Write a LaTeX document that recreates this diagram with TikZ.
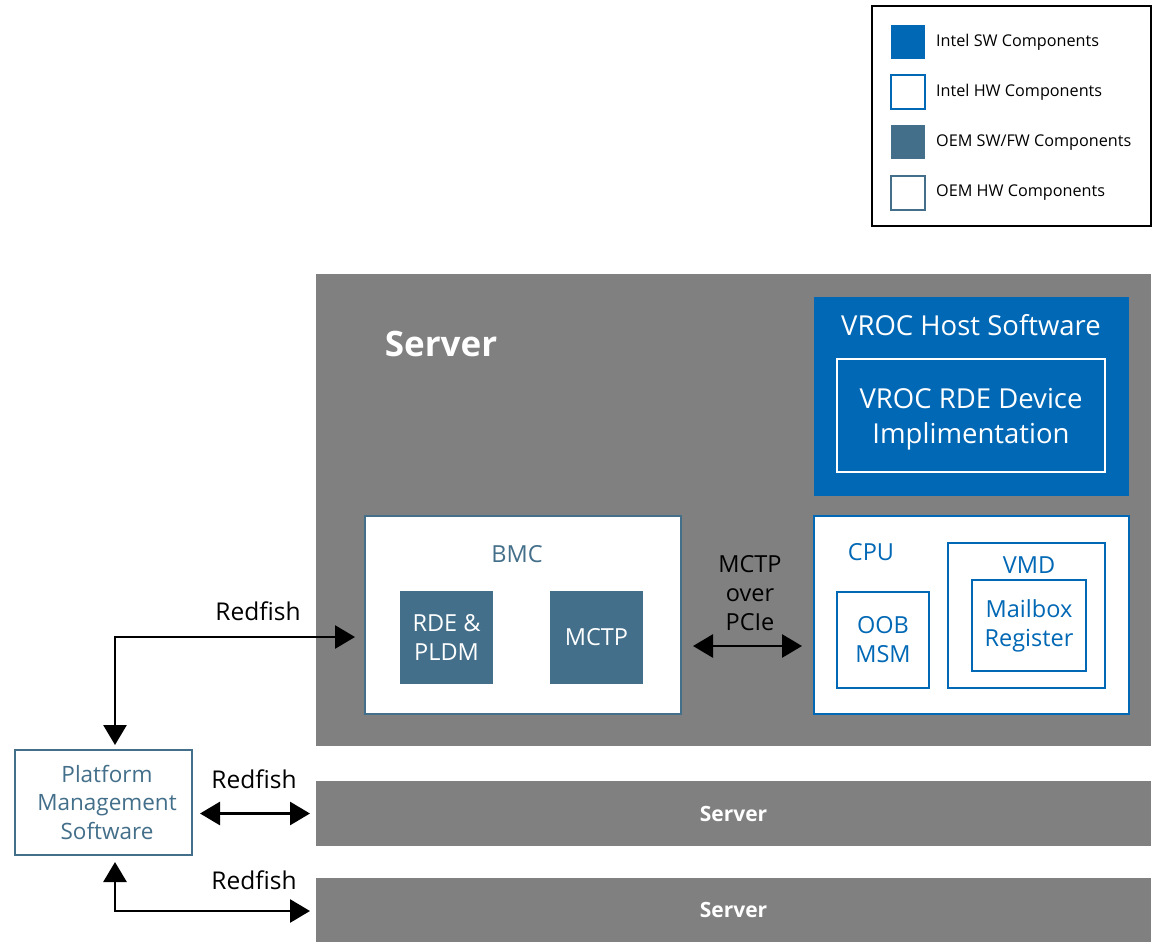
\documentclass[tikz,border=0pt]{standalone}
\usepackage{fontspec}
\setmainfont{Open Sans}
\usetikzlibrary{arrows.meta,calc}
\definecolor{intelblue}{HTML}{0068B5}
\definecolor{oem}{HTML}{436F8A}
\definecolor{srvgray}{HTML}{808080}
\begin{document}
\begin{tikzpicture}[x=1pt,y=-1pt,
  box/.style={anchor=north west,inner sep=0pt,outer sep=0pt},
  srv/.style={box,fill=srvgray},
  oembox/.style={box,draw=oem,line width=2.8pt,fill=white},
  oemfill/.style={box,fill=oem,text=white,font=\fontsize{23.5}{29}\selectfont,align=center},
  ibox/.style={box,draw=intelblue,line width=2.8pt,fill=white,text=intelblue,font=\fontsize{23.5}{29}\selectfont,align=center},
  lbl/.style={inner sep=0pt,font=\fontsize{23.5}{29}\selectfont,align=center},
  legtxt/.style={anchor=west,inner sep=0pt,font=\fontsize{16.2}{18}\selectfont},
  legsq/.style={box,minimum width=34pt,minimum height=34pt,line width=2.2pt},
  arr/.style={line width=2.8pt,{Triangle[length=20pt,width=23pt]}-{Triangle[length=20pt,width=23pt]}}
]
\useasboundingbox (0,0) rectangle (1153,942);

% legend
\node[box,draw=black,line width=2pt,minimum width=279pt,minimum height=220pt] (legend) at (872,6) {};
\node[legsq,fill=intelblue] (lsq1) at (891,25) {};
\node[legsq,draw=intelblue,fill=white] (lsq2) at (891,75) {};
\node[legsq,fill=oem] (lsq3) at (891,125) {};
\node[legsq,draw=oem,fill=white] (lsq4) at (891,176) {};
\node[legtxt] (lt1) at (936,42) {Intel SW Components};
\node[legtxt] (lt2) at (936,92) {Intel HW Components};
\node[legtxt] (lt3) at (936,143) {OEM SW/FW Components};
\node[legtxt] (lt4) at (936,193) {OEM HW Components};

% servers
\node[srv,minimum width=835pt,minimum height=472pt] (srv1) at (316,274) {};
\node[srv,minimum width=835pt,minimum height=65pt,text=white,font=\fontsize{21}{24}\selectfont\bfseries] (srv2) at (316,781) {Server};
\node[srv,minimum width=835pt,minimum height=64pt,text=white,font=\fontsize{21}{24}\selectfont\bfseries] (srv3) at (316,878) {Server};
\node[inner sep=0pt,text=white,font=\fontsize{35}{40}\selectfont\bfseries] (srvtitle) at (441,344) {Server};

% VROC host software
\node[box,fill=intelblue,minimum width=315pt,minimum height=199pt] (vroc) at (814,297) {};
\node[inner sep=0pt,text=white,font=\fontsize{27.5}{34}\selectfont] (vroct) at (971,325) {VROC Host Software};
\node[box,draw=white,line width=2pt,minimum width=268pt,minimum height=113pt] (rdedev) at (837,359) {};
\node[inner sep=0pt,text=white,font=\fontsize{27.5}{35}\selectfont,align=center] (rdedevt) at (971,419) {VROC RDE Device\\Implimentation};

% BMC
\node[oembox,minimum width=316pt,minimum height=198pt] (bmc) at (365,516) {};
\node[lbl,text=oem] (bmct) at (517,554) {BMC};
\node[oemfill,minimum width=93pt,minimum height=93pt] (rde) at (400,591) {RDE \&\\PLDM};
\node[oemfill,minimum width=93pt,minimum height=93pt] (mctp) at (550,591) {MCTP};

% MCTP over PCIe
\node[lbl] (pcie) at (750,593) {MCTP\\over\\PCIe};

% CPU
\node[ibox,minimum width=315pt,minimum height=198pt] (cpu) at (814,516) {};
\node[lbl,text=intelblue] (cput) at (871,552) {CPU};
\node[ibox,minimum width=92pt,minimum height=96pt] (oob) at (837,592) {OOB\\MSM};
\node[ibox,minimum width=157pt,minimum height=145pt] (vmd) at (948,543) {};
\node[lbl,text=intelblue] (vmdt) at (1029,565) {VMD};
\node[ibox,minimum width=114pt,minimum height=91pt] (mail) at (972,580) {Mailbox\\Register};

% Platform management software
\node[oembox,minimum width=177pt,minimum height=105pt] (pms) at (15,750) {};
\node[inner sep=0pt,text=oem,font=\fontsize{22.5}{28.5}\selectfont,align=center] (pmst) at (107,802) {Platform\\Management\\Software};

% connectors
\draw[arr] ([xshift=11.5pt,yshift=5pt]pms.north) |- ([xshift=-10pt,yshift=-22pt]bmc.west);
\draw[arr] ($(pms.east |- srv2.west)+(8,0)$) -- ($(srv2.west)+(-6,0)$);
\draw[arr] ([xshift=11.5pt,yshift=-7pt]pms.south) |- ([xshift=-6pt,yshift=-1pt]srv3.west);
\draw[arr] ([xshift=12pt,yshift=-31pt]bmc.east) -- ([xshift=-12pt,yshift=-31pt]cpu.west);

% labels
\node[lbl,font=\fontsize{24.5}{29}\selectfont] (rf1) at (258,611) {Redfish};
\node[lbl,font=\fontsize{24.5}{29}\selectfont] (rf2) at (254,779) {Redfish};
\node[lbl,font=\fontsize{24.5}{29}\selectfont] (rf3) at (254,880) {Redfish};
\end{tikzpicture}
\end{document}
